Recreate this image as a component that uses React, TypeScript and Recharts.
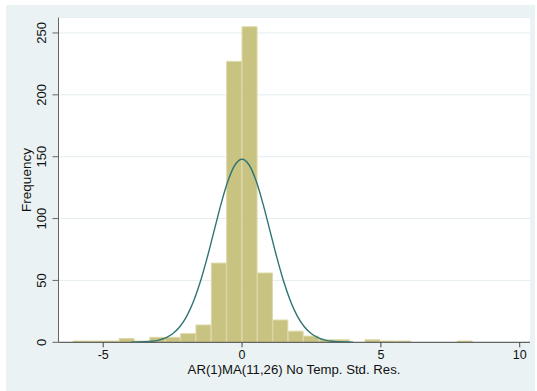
import React from "react";
import {
  ComposedChart,
  LineChart,
  Bar,
  Line,
  XAxis,
  YAxis,
  CartesianGrid,
} from "recharts";

// histogram bins (midpoints) and their frequencies
const binMids = [
  -5.811, -5.258, -4.704, -4.151, -3.597, -3.044, -2.49, -1.937, -1.383,
  -0.83, -0.277, 0.277, 0.83, 1.384, 1.937, 2.491, 3.044, 3.598, 4.151, 4.705,
  5.258, 5.812, 6.365, 6.919, 7.472, 8.026,
];
const binFreq = [
  1, 1, 1, 3, 1, 4, 4, 7, 14, 64, 227, 255, 56, 18, 9, 5, 2, 2, 0, 2, 1, 1, 0,
  0, 0, 1,
];

// normal density overlay, in frequency units
const curveX = [
  -4, -3.5, -3.25, -3, -2.75, -2.5, -2.25, -2, -1.75, -1.5, -1.25, -1, -0.75,
  -0.5, -0.25, 0, 0.25, 0.5, 0.75, 1, 1.25, 1.5, 1.75, 2, 2.25, 2.5, 2.75, 3,
  3.25, 3.5, 4,
];
const curveY = [
  0.1, 0.4, 0.8, 1.8, 3.6, 6.9, 12.4, 20.8, 33, 49.1, 68.8, 90.6, 112.3, 130.9,
  143.5, 148, 143.5, 130.9, 112.3, 90.6, 68.8, 49.1, 33, 20.8, 12.4, 6.9, 3.6,
  1.8, 0.8, 0.4, 0.1,
];

const xTicks = [-5, 0, 5, 10];
const yTicks = [0, 50, 100, 150, 200, 250];

const bins = binMids.map((x, i) => ({ x, freq: binFreq[i] }));
const curve = curveX.map((x, i) => ({ x, y: curveY[i] }));

const W = 537;
const H = 391;
const X_DOMAIN: [number, number] = [-6.61, 10.37];
const Y_DOMAIN: [number, number] = [0, 262.5];
const FONT = "'Liberation Sans', Arial, Helvetica, sans-serif";
const INK = "#111";

const YTick = (props: any) => {
  const { y, payload } = props;
  return (
    <text
      x={0}
      y={0}
      transform={`translate(45.5,${y}) rotate(-90)`}
      textAnchor="middle"
      fontSize={13}
      fontFamily={FONT}
      fill={INK}
    >
      {payload.value}
    </text>
  );
};

const XTick = (props: any) => {
  const { x, y, payload } = props;
  return (
    <text
      x={x}
      y={y + 9.5}
      textAnchor="middle"
      fontSize={12.5}
      fontFamily={FONT}
      fill={INK}
    >
      {payload.value}
    </text>
  );
};

export default function App() {
  return (
    <div style={{ position: "relative", width: W, height: H, background: "#fff" }}>
      <style>{"body{margin:0}"}</style>
      <div
        style={{
          position: "absolute",
          left: 6,
          top: 5,
          width: 529,
          height: 386,
          background: "#eaf2f3",
        }}
      />
      <div style={{ position: "absolute", left: 0, top: 0 }}>
        <ComposedChart
          width={W}
          height={H}
          data={bins}
          margin={{ top: 17.5, right: 7, left: 0, bottom: 0 }}
          barCategoryGap={0}
          barGap={0}
        >
          <CartesianGrid
            vertical={false}
            fill="#fff"
            stroke="#e4edf0"
            strokeWidth={1}
          />
          <XAxis
            dataKey="x"
            type="number"
            domain={X_DOMAIN}
            ticks={xTicks}
            allowDataOverflow
            height={48.7}
            tickSize={5}
            tickMargin={2}
            stroke="#444"
            tick={<XTick />}
            label={{
              content: () => (
                <text
                  x={294}
                  y={373.5}
                  textAnchor="middle"
                  fontSize={13.2}
                  fontFamily={FONT}
                  fill={INK}
                >
                  AR(1)MA(11,26) No Temp. Std. Res.
                </text>
              ),
            }}
          />
          <YAxis
            type="number"
            domain={Y_DOMAIN}
            ticks={yTicks}
            allowDataOverflow
            width={58.5}
            tickSize={6}
            stroke="#666"
            tick={<YTick />}
            label={{
              content: () => (
                <text
                  x={0}
                  y={0}
                  transform="translate(31,180) rotate(-90)"
                  textAnchor="middle"
                  fontSize={13.5}
                  fontFamily={FONT}
                  fill={INK}
                >
                  Frequency
                </text>
              ),
            }}
          />
          <Bar
            dataKey="freq"
            fill="#c9c382"
            stroke="#dcd8a6"
            strokeWidth={1}
            isAnimationActive={false}
          />
        </ComposedChart>
      </div>
      {/* density curve drawn on top of the bars */}
      <div style={{ position: "absolute", left: 0, top: 0, pointerEvents: "none" }}>
        <LineChart
          width={W}
          height={H}
          data={curve}
          margin={{ top: 17.5, right: 7, left: 58.5, bottom: 48.7 }}
        >
          <XAxis dataKey="x" type="number" domain={X_DOMAIN} allowDataOverflow hide />
          <YAxis type="number" domain={Y_DOMAIN} allowDataOverflow hide />
          <Line
            dataKey="y"
            type="monotone"
            stroke="#2f7472"
            strokeWidth={1.4}
            dot={false}
            isAnimationActive={false}
          />
        </LineChart>
      </div>
    </div>
  );
}
